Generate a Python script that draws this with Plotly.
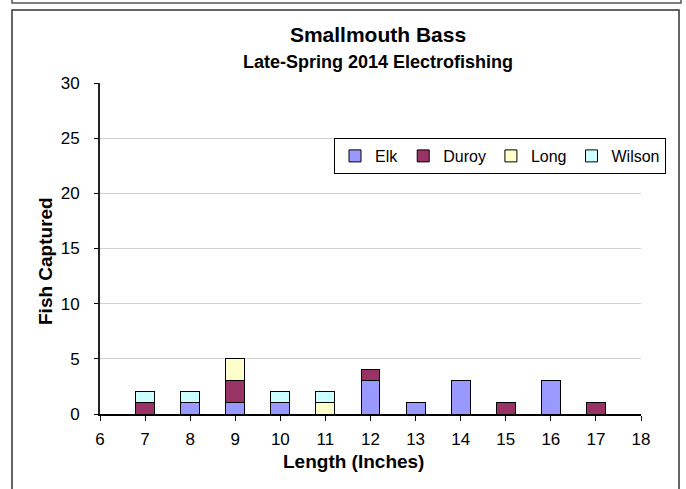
import plotly.graph_objects as go

# Data
lengths = [7, 8, 9, 10, 11, 12, 13, 14, 15, 16, 17]
elk = [0, 1, 1, 1, 0, 3, 1, 3, 0, 3, 0]
duroy = [1, 0, 2, 0, 0, 1, 0, 0, 1, 0, 1]
long_creek = [0, 0, 2, 0, 1, 0, 0, 0, 0, 0, 0]
wilson = [1, 1, 0, 1, 1, 0, 0, 0, 0, 0, 0]

series = [
    ("Elk", elk, "#9999FF"),
    ("Duroy", duroy, "#993366"),
    ("Long", long_creek, "#FFFFCC"),
    ("Wilson", wilson, "#CCFFFF"),
]

W, H = 686, 489
L, R, T, B = 100, 45, 83, 75
pw, ph = W - L - R, H - T - B


def px(x):
    return (x - L) / pw


def py(y):
    return (H - B - y) / ph


fig = go.Figure()
for name, vals, col in series:
    fig.add_trace(go.Bar(x=lengths, y=vals, name=name, width=0.42,
                         marker=dict(color=col, line=dict(color="black", width=1))))

font = "Liberation Sans, Arial, sans-serif"
fig.update_layout(
    width=W, height=H,
    margin=dict(l=L, r=R, t=T, b=B, autoexpand=False),
    barmode="stack",
    paper_bgcolor="white", plot_bgcolor="white",
    font=dict(family=font, size=17, color="black"),
    title=dict(text="<b>Smallmouth Bass</b>",
               x=378 / W, xanchor="center", y=1 - 35 / H, yanchor="middle",
               font=dict(size=21, family=font)),
    xaxis=dict(range=[6, 18], tickmode="linear", tick0=6, dtick=1,
               showline=True, linecolor="black", linewidth=1.5,
               ticks="outside", ticklen=5, tickcolor="black",
               showgrid=False, zeroline=False, automargin=False,
               tickfont=dict(size=17), ticklabelstandoff=4),
    yaxis=dict(range=[0, 30], tickmode="linear", tick0=0, dtick=5,
               showline=True, linecolor="#222222", linewidth=2,
               ticks="outside", ticklen=4, tickcolor="black",
               showgrid=True, gridcolor="#D0D0D0", gridwidth=1, zeroline=False,
               automargin=False, tickfont=dict(size=17), ticklabelstandoff=11),
    legend=dict(orientation="h", x=px(500), y=py(138), xanchor="center", yanchor="top",
                bgcolor="white", bordercolor="black", borderwidth=1,
                traceorder="normal", font=dict(size=16), itemwidth=30),
    showlegend=True,
)

# Subtitle and axis titles
fig.add_annotation(text="<b>Late-Spring 2014 Electrofishing</b>", xref="paper", yref="paper",
                   x=px(378), y=py(62), xanchor="center", yanchor="middle",
                   showarrow=False, font=dict(size=18, family=font))
fig.add_annotation(text="<b>Length (Inches)</b>", xref="paper", yref="paper",
                   x=px(353), y=py(461), xanchor="center", yanchor="middle",
                   showarrow=False, font=dict(size=19, family=font))
fig.add_annotation(text="<b>Fish Captured</b>", xref="paper", yref="paper",
                   x=px(45), y=py(261), xanchor="center", yanchor="middle", textangle=-90,
                   showarrow=False, font=dict(size=19, family=font))

# Outer frames
fig.add_shape(type="rect", xref="paper", yref="paper",
              x0=px(12), x1=px(681), y0=py(-20), y1=py(3),
              line=dict(color="#555555", width=1.5), fillcolor="rgba(0,0,0,0)", layer="below")
fig.add_shape(type="rect", xref="paper", yref="paper",
              x0=px(12), x1=px(679), y0=py(500), y1=py(10),
              line=dict(color="#333333", width=1.5), fillcolor="rgba(0,0,0,0)", layer="below")

# page has no body margin so the figure fills the window
fig.write_html("out.html", config={"displayModeBar": False},
               post_script="document.body.style.margin='0';")
